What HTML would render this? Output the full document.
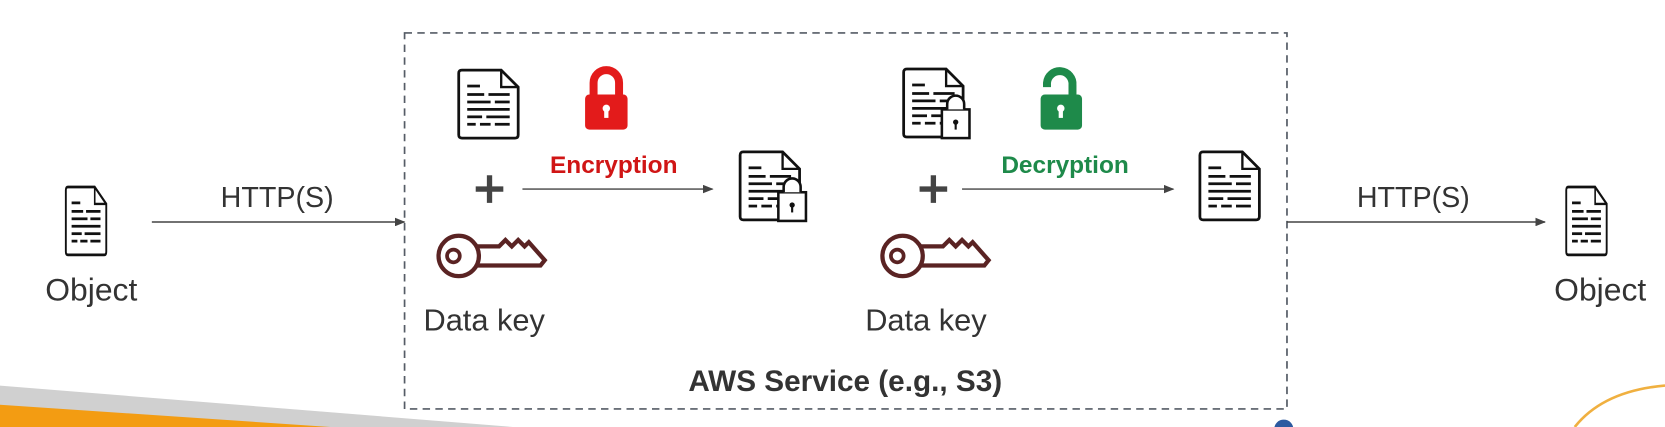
<!DOCTYPE html>
<html><head><meta charset="utf-8"><style>
html,body{margin:0;padding:0;background:#fff;width:1665px;height:427px;overflow:hidden}
svg{display:block}
text{font-family:"Liberation Sans",sans-serif}
</style></head><body>
<svg width="1665" height="427" viewBox="0 0 1568 402" preserveAspectRatio="none" xmlns="http://www.w3.org/2000/svg">
<defs>
<marker id="ah" markerWidth="10" markerHeight="8" refX="9" refY="4" orient="auto" markerUnits="userSpaceOnUse">
<path d="M0,0 L10,4 L0,8 Z" fill="#444"/></marker>
<g id="doc">
<path d="M3,0 H40 L56,16 V61 Q56,64 53,64 H3 Q0,64 0,61 V3 Q0,0 3,0 Z" fill="#fff" stroke="#111" stroke-width="2.6"/>
<path d="M40,0 V16 H56" fill="none" stroke="#111" stroke-width="2.2"/>
<g stroke="#111" stroke-width="2.6">
<line x1="8" y1="15" x2="20" y2="15"/>
<line x1="8" y1="23" x2="24" y2="23"/><line x1="28" y1="23" x2="48" y2="23"/>
<line x1="8" y1="30" x2="30" y2="30"/><line x1="34" y1="30" x2="48" y2="30"/>
<line x1="8" y1="37" x2="48" y2="37"/>
<line x1="8" y1="44" x2="22" y2="44"/><line x1="26" y1="44" x2="48" y2="44"/>
<line x1="8" y1="51" x2="16" y2="51"/><line x1="20" y1="51" x2="30" y2="51"/><line x1="34" y1="51" x2="48" y2="51"/>
</g></g>
<g id="ldoc">
<use href="#doc"/>
<rect x="36" y="38" width="26" height="27" fill="#fff" stroke="#111" stroke-width="2.4"/>
<path d="M41,38 V33 A8,8 0 0 1 57,33 V38" fill="#fff" stroke="#111" stroke-width="2.4"/>
<circle cx="49" cy="50" r="2.5" fill="#111"/><line x1="49" y1="50" x2="49" y2="57" stroke="#111" stroke-width="2"/>
</g>
<g id="key">
<circle cx="22" cy="22" r="19" fill="none" stroke="#5a2323" stroke-width="4"/>
<circle cx="17" cy="22" r="6" fill="none" stroke="#5a2323" stroke-width="3.5"/>
<path d="M38,13 H60 L66,7 L72,13 L78,7 L84,13 L88,9 L103,26 L99,31 H38" fill="none" stroke="#5a2323" stroke-width="4" stroke-linejoin="miter"/>
</g>
<g id="plus" stroke="#444" stroke-width="5"><line x1="-13" y1="0" x2="13" y2="0"/><line x1="0" y1="-13" x2="0" y2="13"/></g>
</defs>

<polygon points="0,363 483,402 0,402" fill="#d0d0d0"/>
<polygon points="0,381 311,402 0,402" fill="#f39c12"/>
<circle cx="1209" cy="404" r="9" fill="#2c5aa0"/>
<path d="M1483,402 Q1510,368 1568,363" fill="none" stroke="#f0b040" stroke-width="2.5"/>

<rect x="381" y="31" width="831" height="354" fill="none" stroke="#555c66" stroke-width="1.6" stroke-dasharray="7,5"/>

<g transform="translate(62,176) scale(0.68,1)"><use href="#doc"/></g>
<text x="86" y="283" font-size="30" text-anchor="middle" fill="#333">Object</text>
<line x1="143" y1="209" x2="381" y2="209" stroke="#444" stroke-width="1.3" marker-end="url(#ah)"/>
<text x="261" y="195" font-size="27" text-anchor="middle" fill="#333">HTTP(S)</text>

<use href="#doc" transform="translate(432,66)"/>
<use href="#plus" transform="translate(461,178)"/>
<use href="#key" transform="translate(410,219)"/>
<text x="456" y="311" font-size="29" text-anchor="middle" fill="#333">Data key</text>
<path d="M559,92 V78 A12,12 0 0 1 583,78 V92" fill="none" stroke="#e31b1b" stroke-width="7.5"/>
<rect x="551" y="89" width="40" height="33" rx="4" fill="#e31b1b"/>
<circle cx="571" cy="102" r="3.5" fill="#fff"/><rect x="569" y="102" width="4" height="9" fill="#fff"/>
<text x="578" y="163" font-size="23" font-weight="bold" text-anchor="middle" fill="#d01515">Encryption</text>
<line x1="492" y1="178" x2="671" y2="178" stroke="#444" stroke-width="1.3" marker-end="url(#ah)"/>
<use href="#ldoc" transform="translate(697,143)"/>

<use href="#ldoc" transform="translate(851,65)"/>
<use href="#plus" transform="translate(879,178)"/>
<use href="#key" transform="translate(828,219)"/>
<text x="872" y="311" font-size="29" text-anchor="middle" fill="#333">Data key</text>
<path d="M1010,92 V80 A12,12 0 0 0 986,78 V82" fill="none" stroke="#1e8a4a" stroke-width="7.5"/>
<rect x="980" y="89" width="39" height="33" rx="4" fill="#1e8a4a"/>
<circle cx="999" cy="102" r="3.5" fill="#fff"/><rect x="997" y="102" width="4" height="9" fill="#fff"/>
<text x="1003" y="163" font-size="23" font-weight="bold" text-anchor="middle" fill="#1e8a4a">Decryption</text>
<line x1="906" y1="178" x2="1105" y2="178" stroke="#444" stroke-width="1.3" marker-end="url(#ah)"/>
<use href="#doc" transform="translate(1130,143)"/>

<line x1="1212" y1="209" x2="1455" y2="209" stroke="#444" stroke-width="1.3" marker-end="url(#ah)"/>
<text x="1331" y="195" font-size="27" text-anchor="middle" fill="#333">HTTP(S)</text>
<g transform="translate(1475,176) scale(0.68,1)"><use href="#doc"/></g>
<text x="1507" y="283" font-size="30" text-anchor="middle" fill="#333">Object</text>

<text x="796" y="368" font-size="28" font-weight="bold" text-anchor="middle" fill="#333">AWS Service (e.g., S3)</text>
</svg>
</body></html>
